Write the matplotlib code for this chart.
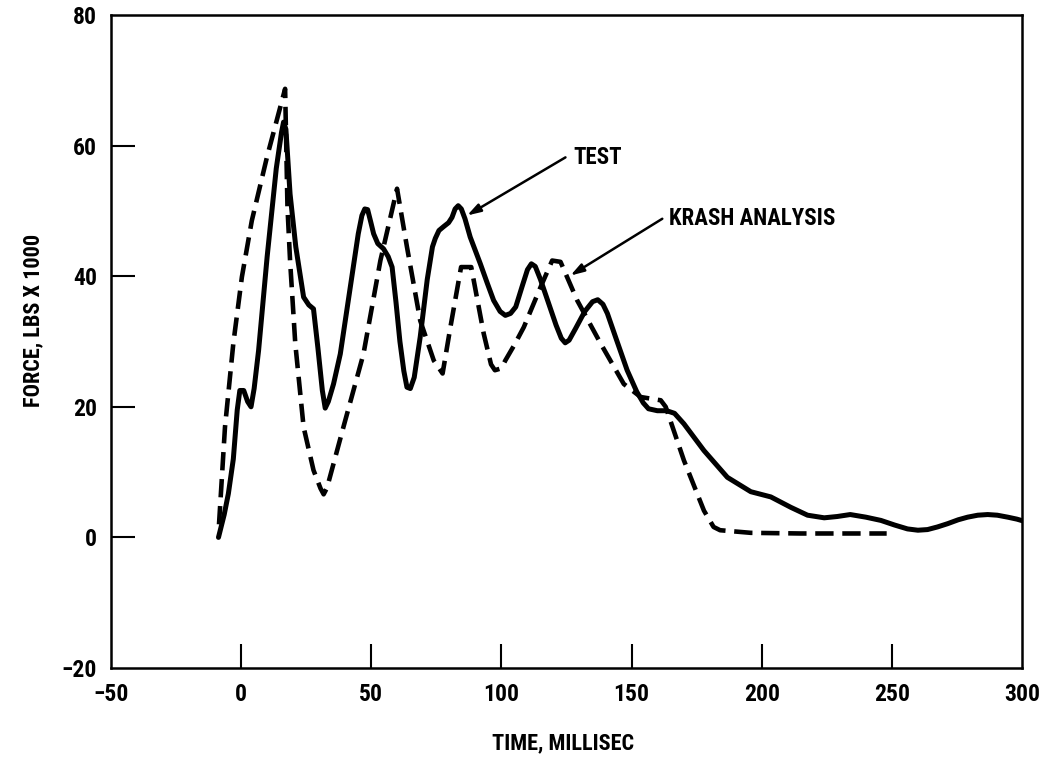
import matplotlib
matplotlib.use("Agg")
import matplotlib.pyplot as plt

# ---------------- data ----------------
test_t = [-8.7, -6.5, -4.9, -3.0, -1.5, -0.5, 1.0, 2.5, 3.8, 5.0, 6.7, 10.0, 13.5,
          15.5, 16.3, 17.2, 18.8, 21.0, 24.0, 26.0, 27.8, 29.5, 31.2, 32.3, 33.5,
          35.5, 38.1, 42.0, 45.0, 46.4, 47.5, 48.6, 49.8, 50.9, 52.5, 54.7, 56.5,
          58.0, 59.5, 61.0, 62.5, 63.7, 65.0, 66.5, 68.8, 71.5, 73.5, 74.6, 76.0,
          77.8, 79.7, 81.0, 82.2, 83.4, 84.6, 86.0, 88.0, 91.9, 94.5, 97.0, 99.5,
          101.5, 103.5, 105.5, 108.0, 110.0, 111.5, 113.0, 115.0, 118.0, 121.0,
          123.0, 124.5, 126.0, 128.5, 132.0, 135.0, 137.0, 139.0, 140.7, 144.0,
          148.3, 152.0, 154.5, 156.5, 159.9, 163.5, 166.5, 170.1, 177.8, 186.8,
          195.8, 203.5, 211.2, 217.6, 224.0, 229.0, 234.0, 240.0, 245.8, 251.0,
          256.0, 260.0, 263.7, 267.5, 271.4, 275.5, 279.1, 283.0, 286.8, 290.5,
          294.5, 298.0, 300.6]
test_f = [0.0, 3.5, 6.7, 12.0, 19.5, 22.5, 22.5, 20.8, 20.0, 22.8, 28.6, 43.0, 56.5,
          62.0, 63.6, 62.5, 52.6, 44.5, 36.8, 35.6, 35.0, 29.0, 22.5, 19.8, 20.8,
          23.5, 28.1, 38.5, 46.5, 49.3, 50.3, 50.2, 48.3, 46.5, 45.0, 44.2, 43.0,
          41.4, 36.0, 30.0, 25.5, 23.0, 22.8, 24.5, 30.7, 39.5, 44.5, 45.8, 47.0,
          47.6, 48.2, 49.0, 50.3, 50.8, 50.3, 48.8, 46.0, 41.9, 39.0, 36.3, 34.6,
          34.0, 34.3, 35.3, 38.5, 41.0, 41.9, 41.5, 39.5, 36.0, 32.5,
          30.5, 29.8, 30.2, 32.0, 34.6, 36.1, 36.4, 35.7, 34.3, 30.5,
          25.6, 22.3, 20.6, 19.7, 19.4, 19.4, 19.0, 17.4, 13.3, 9.2,
          7.0, 6.2, 4.6, 3.4, 3.0, 3.2, 3.5, 3.1, 2.6, 1.9,
          1.3, 1.1, 1.2, 1.6, 2.1, 2.7, 3.1, 3.4, 3.5, 3.4,
          3.1, 2.8, 2.5]

krash_t = [-8.5, -6.2, -3.0, 0.3, 4.1, 9.9, 16.9, 17.8, 18.8, 20.8, 24.0, 27.8, 30.5,
           31.7, 33.0, 39.3, 47.0, 53.5, 59.9, 63.7, 68.8, 74.0, 77.4, 80.4, 84.5,
           88.4, 93.2, 96.0, 97.5, 100.0, 101.5, 105.0, 108.6, 115.0, 119.5, 122.7,
           129.1, 138.1, 147.0, 153.5, 161.2, 163.1, 170.1, 177.8, 181.5, 184.0,
           195.8, 215.0, 248.0]
krash_f = [2.0, 16.9, 29.7, 39.9, 48.5, 58.2, 68.7, 50.6, 42.4, 29.7, 16.9, 10.3, 7.5,
           6.6, 7.6, 16.9, 28.1, 42.4, 53.4, 44.5, 33.2, 27.1, 25.1, 32.2, 41.4,
           41.4, 31.2, 26.5, 25.6, 25.9, 27.1, 29.5, 32.2, 38.3, 42.4, 42.2,
           36.3, 29.7, 23.5, 21.5, 21.0, 20.0, 11.8, 4.1, 1.6, 1.1,
           0.7, 0.6, 0.6]

x_ticks = [-50, 0, 50, 100, 150, 200, 250, 300]
y_ticks = [-20, 0, 20, 40, 60, 80]

FONT = ["Roboto Condensed", "DejaVu Sans"]
plt.rcParams["font.family"] = FONT

fig = plt.figure(figsize=(10.43, 7.59), dpi=100)
ax = fig.add_axes([0.1064, 0.1199, 0.8735, 0.8603])

ax.plot(test_t, test_f, color="black", lw=3.6, solid_joinstyle="round",
        solid_capstyle="round")
ax.plot(krash_t, krash_f, color="black", lw=3.3, dashes=(4.0, 1.9),
        dash_capstyle="butt", dash_joinstyle="round")

ax.set_xlim(-50, 300)
ax.set_ylim(-20, 80)
ax.set_xticks(x_ticks)
ax.set_yticks(y_ticks)
ax.set_xticklabels([("\u2212" + str(-v)) if v < 0 else str(v) for v in x_ticks],
                   fontsize=17, fontweight="bold")
ax.set_yticklabels([("\u2212" + str(-v)) if v < 0 else str(v) for v in y_ticks],
                   fontsize=17, fontweight="bold")
ax.tick_params(axis="both", direction="in", length=17, width=1.5)
ax.tick_params(axis="x", pad=11)
ax.tick_params(axis="y", pad=10)
for sp in ax.spines.values():
    sp.set_linewidth(1.8)

for t in ax.xaxis.get_major_ticks():
    if t.get_loc() in (-50, 300):
        t.tick1line.set_visible(False)
for t in ax.yaxis.get_major_ticks():
    if t.get_loc() in (-20, 80):
        t.tick1line.set_visible(False)

ax.set_xlabel("TIME, MILLISEC", fontsize=16, fontweight="bold")
ax.set_ylabel("FORCE, LBS X 1000", fontsize=16, fontweight="bold")
ax.xaxis.set_label_coords(0.496, -0.099)
ax.yaxis.set_label_coords(-0.073, 0.533)

arrow = dict(arrowstyle="-|>,head_length=0.8,head_width=0.25", color="black",
             lw=1.8, shrinkA=0, shrinkB=0)
ax.annotate("", xy=(86.8, 49.3), xytext=(124.6, 58.2), arrowprops=arrow)
ax.text(127.5, 58.2, "TEST", fontsize=16.5, fontweight="bold", va="center", ha="left")
ax.annotate("", xy=(126.5, 40.1), xytext=(161.8, 48.8), arrowprops=arrow)
ax.text(164.5, 48.8, "KRASH ANALYSIS", fontsize=16.5, fontweight="bold",
        va="center", ha="left")

fig.savefig("out.png", dpi=100)
